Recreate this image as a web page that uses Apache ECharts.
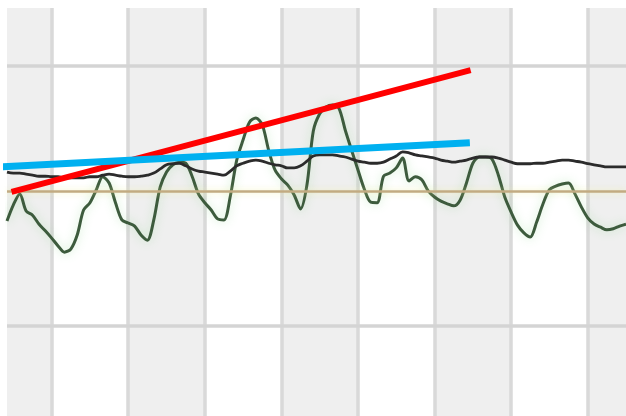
<!DOCTYPE html>
<html>
<head>
<meta charset="utf-8">
<style>
html,body{margin:0;padding:0;background:#ffffff;overflow:hidden;width:626px;height:416px;}
#chart{width:626px;height:586px;}
</style>
<script src="https://cdn.jsdelivr.net/npm/echarts@6/dist/echarts.min.js"></script>
</head>
<body>
<div id="chart"></div>
<script>
// Monthly categories (labels are not shown in the picture)
const startYear = 1994, startMonth = 6, monthCount = 98;
const categories = [];
for (let i = 0; i < monthCount; i++) {
  const m = (startMonth - 1 + i) % 12 + 1;
  const y = startYear + Math.floor((startMonth - 1 + i) / 12);
  categories.push(y + '-' + (m < 10 ? '0' + m : m));
}

// Monthly values (green line)
const monthly = [
  0.202,0.233,0.254,0.221,0.213,0.196,0.183,0.169,0.154,0.142,
  0.148,0.175,0.223,0.237,0.262,0.287,0.275,0.237,0.204,0.198,
  0.192,0.175,0.165,0.204,0.267,0.296,0.310,0.315,0.313,0.288,
  0.254,0.237,0.223,0.206,0.204,0.250,0.319,0.358,0.392,0.400,
  0.387,0.338,0.300,0.283,0.271,0.252,0.225,0.271,0.375,0.408,
  0.421,0.425,0.419,0.377,0.338,0.300,0.263,0.238,0.237,0.288,
  0.294,0.304,0.323,0.279,0.287,0.281,0.260,0.248,0.240,0.235,
  0.231,0.242,0.275,0.313,0.325,0.325,0.321,0.290,0.248,0.219,
  0.194,0.179,0.171,0.200,0.235,0.262,0.269,0.273,0.275,0.254,
  0.229,0.208,0.196,0.190,0.185,0.187,0.192,0.196
];

// Smoothed values (dark line)
const smoothed = [
  0.296,0.294,0.294,0.292,0.290,0.288,0.288,0.287,0.287,0.285,
  0.285,0.285,0.285,0.287,0.287,0.290,0.292,0.290,0.288,0.287,
  0.287,0.288,0.290,0.294,0.302,0.310,0.312,0.313,0.308,0.302,
  0.298,0.296,0.294,0.292,0.290,0.298,0.308,0.313,0.317,0.319,
  0.317,0.313,0.310,0.308,0.304,0.304,0.308,0.317,0.327,0.329,
  0.329,0.329,0.327,0.325,0.321,0.317,0.315,0.313,0.313,0.315,
  0.321,0.327,0.335,0.333,0.329,0.327,0.325,0.323,0.319,0.317,
  0.315,0.317,0.319,0.323,0.325,0.325,0.325,0.323,0.319,0.315,
  0.312,0.312,0.312,0.313,0.313,0.315,0.317,0.319,0.319,0.317,
  0.315,0.312,0.310,0.308,0.306,0.306,0.306,0.306
];

// Reference level (tan line)
const meanLevel = 0.262;

// Trend lines: [month index, value]
const trendRed = [[0.71, 0.258], [72.65, 0.492]];
const trendBlue = [[-0.85, 0.306], [72.53, 0.3525]];

// Y axis ticks
const yMin = -0.5, yMax = 0.6115, yStep = 0.5;

const chart = echarts.init(document.getElementById('chart'), null, {renderer: 'canvas'});
const isYearStart = function (idx, val) {
  const label = typeof val === 'string' ? val : categories[idx];
  return !!label && label.slice(-2) === '01';
};
chart.setOption({
  animation: false,
  backgroundColor: '#ffffff',
  grid: {
    left: 7, right: -2.4, top: 8, bottom: 0,
    show: true, backgroundColor: '#efefef', borderWidth: 0
  },
  xAxis: [
    {
      type: 'category',
      data: categories,
      boundaryGap: false,
      z: 0,
      axisLine: {show: false},
      axisTick: {show: false},
      axisLabel: {show: false},
      splitLine: {show: true, interval: isYearStart, lineStyle: {color: '#d9d9d9', width: 3.5}},
      splitArea: {show: true, interval: isYearStart, areaStyle: {color: ['#ffffff', '#efefef']}}
    },
    {
      type: 'value',
      min: 0, max: monthCount - 1,
      show: false,
      splitLine: {show: false}
    }
  ],
  yAxis: {
    type: 'value',
    min: yMin, max: yMax, interval: yStep,
    z: 1,
    axisLine: {show: false},
    axisTick: {show: false},
    axisLabel: {show: false},
    splitLine: {show: true, showMinLine: false, showMaxLine: false, lineStyle: {color: '#d4d4d4', width: 3.5}}
  },
  series: [
    {
      name: 'monthly',
      type: 'line',
      data: monthly,
      smooth: 0.3,
      symbol: 'none',
      lineStyle: {color: '#3d5b3d', width: 3, shadowColor: 'rgba(140,215,140,0.45)', shadowBlur: 10},
      z: 3,
      markLine: {
        silent: true,
        symbol: 'none',
        label: {show: false},
        lineStyle: {color: '#c2ab82', width: 2.5, type: 'solid', shadowColor: 'rgba(235,235,150,0.6)', shadowBlur: 6},
        data: [{yAxis: meanLevel}]
      }
    },
    {
      name: 'smoothed',
      type: 'line',
      data: smoothed,
      smooth: 0.4,
      symbol: 'none',
      lineStyle: {color: '#2b2b2b', width: 2.8},
      z: 4
    },
    {
      name: 'trendRed',
      type: 'line',
      xAxisIndex: 1,
      data: trendRed,
      symbol: 'none',
      clip: false,
      lineStyle: {color: '#ff0000', width: 6, cap: 'butt'},
      z: 5
    },
    {
      name: 'trendBlue',
      type: 'line',
      xAxisIndex: 1,
      data: trendBlue,
      symbol: 'none',
      clip: false,
      lineStyle: {color: '#00b0f0', width: 7, cap: 'butt'},
      z: 6
    }
  ]
});
</script>
</body>
</html>
